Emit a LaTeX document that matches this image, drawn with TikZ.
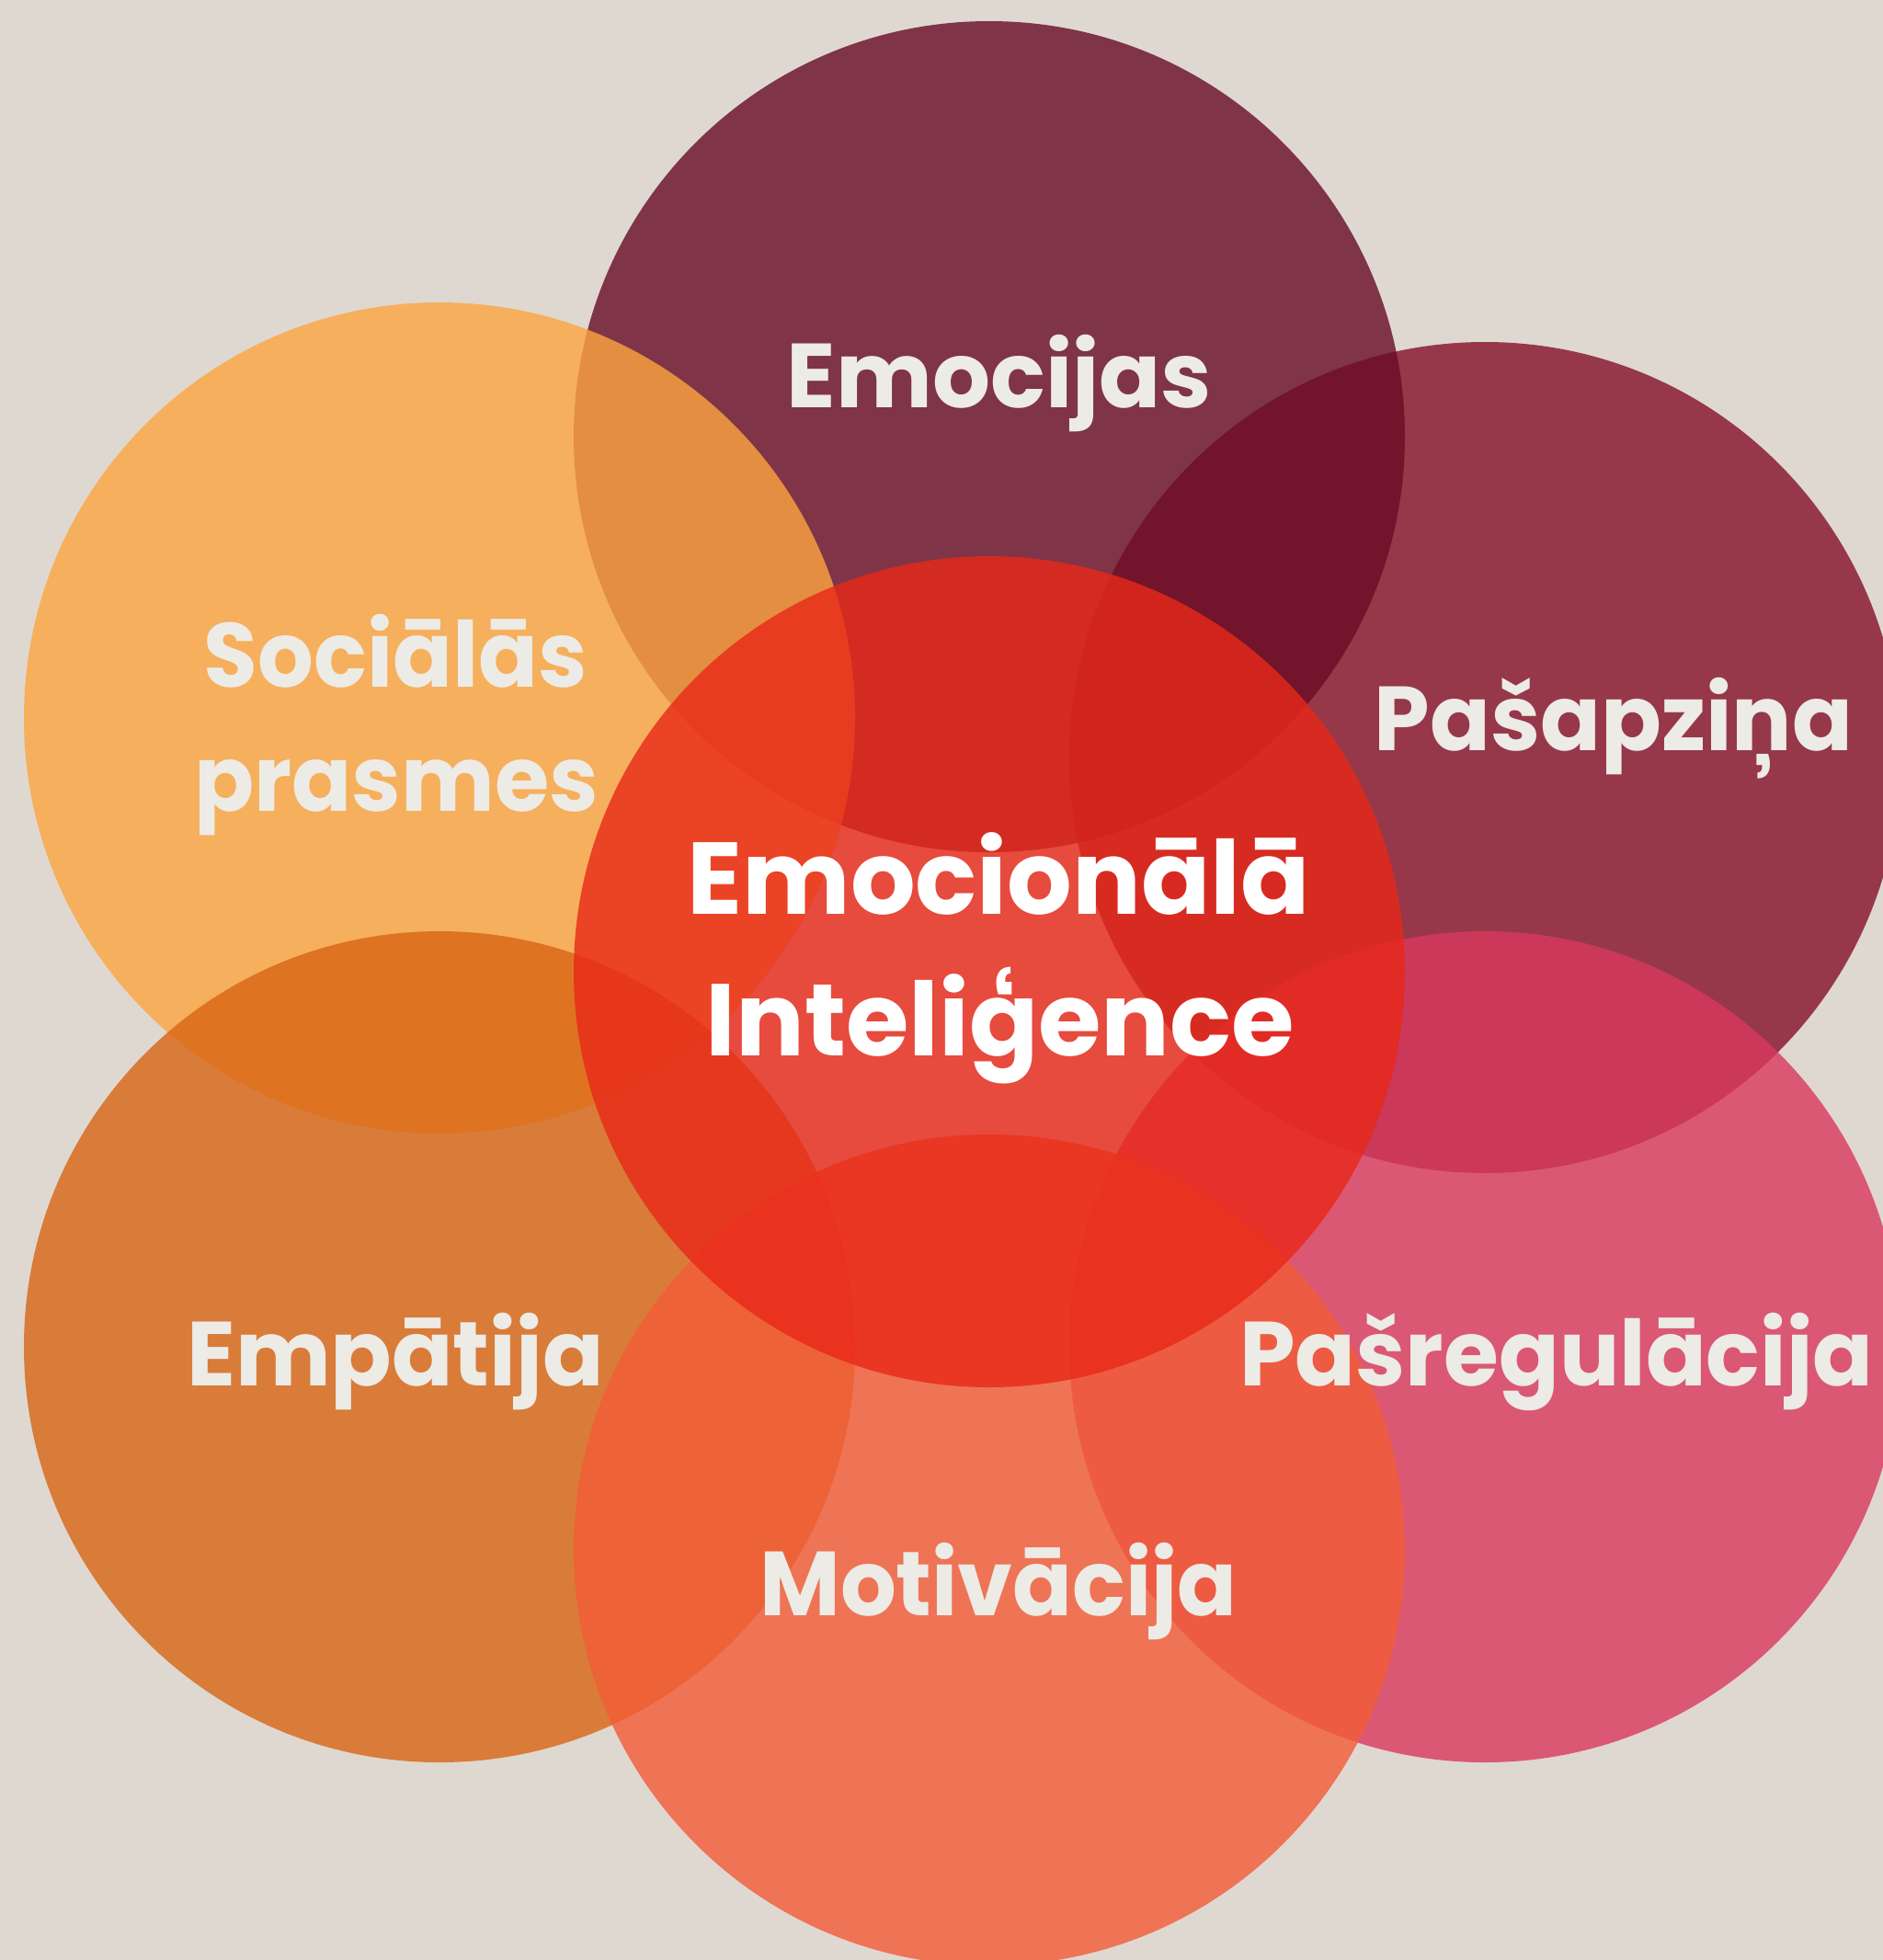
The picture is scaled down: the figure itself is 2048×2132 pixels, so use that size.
\documentclass[tikz,border=0pt]{standalone}
\usepackage{fontspec}
\setmainfont{Poppins}
\definecolor{bgc}{RGB}{223,216,209}
\definecolor{cEmo}{RGB}{104,12,37}
\definecolor{cSoc}{RGB}{252,165,63}
\definecolor{cPas}{RGB}{132,16,41}
\definecolor{cEmp}{RGB}{216,101,20}
\definecolor{cPreg}{RGB}{217,56,93}
\definecolor{cMot}{RGB}{242,92,55}
\definecolor{cCen}{RGB}{232,40,24}
\definecolor{txt}{RGB}{237,235,230}
\newcommand{\hs}[2]{\scalebox{#1}[1]{#2}}
\begin{document}
\begin{tikzpicture}[x=0.5pt,y=-0.5pt,
  blob/.style={circle,inner sep=0pt,minimum size=452pt,draw=none,fill opacity=0.8},
  lbl/.style={anchor=base,inner sep=0pt,text=txt,font=\fontsize{49.5}{55}\selectfont\bfseries},
  clbl/.style={anchor=base,inner sep=0pt,text=white,font=\fontsize{55.5}{60}\selectfont\bfseries}]
\fill[bgc] (0,0) rectangle (2048,2132);
\useasboundingbox (0,0) rectangle (2048,2132);
\node[blob,fill=cPas]  (pas)  at (1615,824)  {};
\node[blob,fill=cEmo]  (emo)  at (1076,475)  {};
\node[blob,fill=cSoc]  (soc)  at (478,781)   {};
\node[blob,fill=cEmp]  (emp)  at (478,1465)  {};
\node[blob,fill=cPreg] (preg) at (1615,1465) {};
\node[blob,fill=cMot]  (mot)  at (1076,1686) {};
\node[blob,fill=cCen]  (cen)  at (1076,1057) {};
\node[lbl] (tEmo)  at (1087,443)  {Emocijas};
\node[lbl] (tSoc1) at (430,747)   {\hs{0.965}{Sociālās}};
\node[lbl] (tSoc2) at (431,882)   {\hs{0.97}{prasmes}};
\node[lbl] (tEmp)  at (430,1507)  {\hs{0.99}{Empātija}};
\node[lbl] (tPas)  at (1755,816)  {\hs{0.98}{Pašapziņa}};
\node[lbl] (tPreg) at (1693,1507) {\hs{0.98}{Pašregulācija}};
\node[lbl] (tMot)  at (1086,1757) {\hs{0.965}{Motivācija}};
\node[clbl] (tCen1) at (1086,994)  {Emocionālā};
\node[clbl] (tCen2) at (1088,1148) {Inteliģence};
\end{tikzpicture}
\end{document}
